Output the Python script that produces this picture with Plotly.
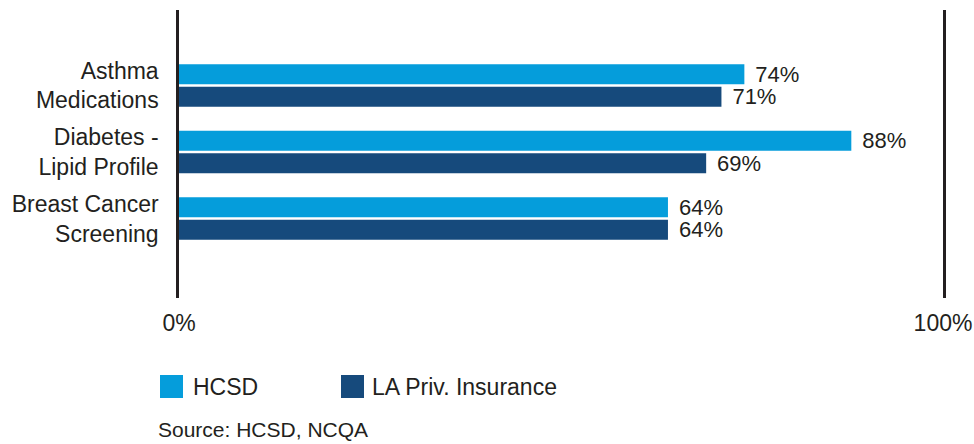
import plotly.graph_objects as go

# Quality measures compared between HCSD and Louisiana private insurance
categories = ["Asthma<br>Medications", "Diabetes -<br>Lipid Profile", "Breast Cancer<br>Screening"]
hcsd = [74, 88, 64]
la_priv = [71, 69, 64]
series_names = ["HCSD", "LA Priv. Insurance"]
colors = ["#059ddb", "#164a7c"]
x_tick_vals = [0, 100]
x_tick_text = ["0%", "100%"]
source_note = "Source: HCSD, NCQA"

FONT = "Liberation Sans, Arial, Helvetica, sans-serif"
TXT = "#231f20"
W, H = 974, 444
ML, MR, MT, MB = 179, 31, 10, 146
PW, PH = W - ML - MR, H - MT - MB


def px_x(p):
    return (p - ML) / PW


def px_y(p):
    return (H - MB - p) / PH


fig = go.Figure()
for name, vals, col in zip(series_names, [hcsd, la_priv], colors):
    fig.add_trace(go.Bar(
        y=categories, x=vals, name=name, orientation="h",
        marker=dict(color=col, line=dict(width=0)),
        text=vals, texttemplate=" \u200a%{x}%", textposition="outside",
        constraintext="none",
        textfont=dict(family=FONT, size=22, color=TXT),
        cliponaxis=False, showlegend=False,
    ))

# Legend keys drawn as squares with labels beneath the chart
shapes = []
annotations = []
legend_pos = [(160, 191), (341, 370)]
for (sx, tx), name, col in zip(legend_pos, series_names, colors):
    shapes.append(dict(type="rect", xref="paper", yref="paper",
                       x0=px_x(sx), x1=px_x(sx + 23), y0=px_y(398), y1=px_y(375),
                       fillcolor=col, line=dict(width=0)))
    annotations.append(dict(xref="paper", yref="paper", x=px_x(tx), y=px_y(386.5),
                            xanchor="left", yanchor="middle", showarrow=False,
                            text=name, font=dict(family=FONT, size=23, color=TXT)))
annotations.append(dict(xref="paper", yref="paper", x=px_x(156), y=px_y(429),
                        xanchor="left", yanchor="middle", showarrow=False,
                        text=source_note, font=dict(family=FONT, size=21, color=TXT)))

fig.update_layout(
    width=W, height=H,
    margin=dict(l=ML, r=MR, t=MT, b=MB, autoexpand=False),
    paper_bgcolor="white", plot_bgcolor="white",
    barmode="group", bargap=0.323, bargroupgap=0.111,
    font=dict(family=FONT, size=23, color=TXT),
    shapes=shapes, annotations=annotations,
    xaxis=dict(range=[0, 100], tickvals=x_tick_vals, ticktext=x_tick_text,
               showgrid=False, zeroline=False, showline=False, ticks="",
               ticklabelstandoff=9, automargin=False,
               tickfont=dict(family=FONT, size=23, color=TXT)),
    yaxis=dict(categoryorder="array", categoryarray=categories,
               range=[3.195, -1.135], showgrid=False, zeroline=False,
               showline=True, mirror=True, linecolor="#231f20", linewidth=2.5,
               ticks="", ticklabelstandoff=13, automargin=False,
               tickfont=dict(family=FONT, size=23, color=TXT)),
)

fig.write_html("out.html")
